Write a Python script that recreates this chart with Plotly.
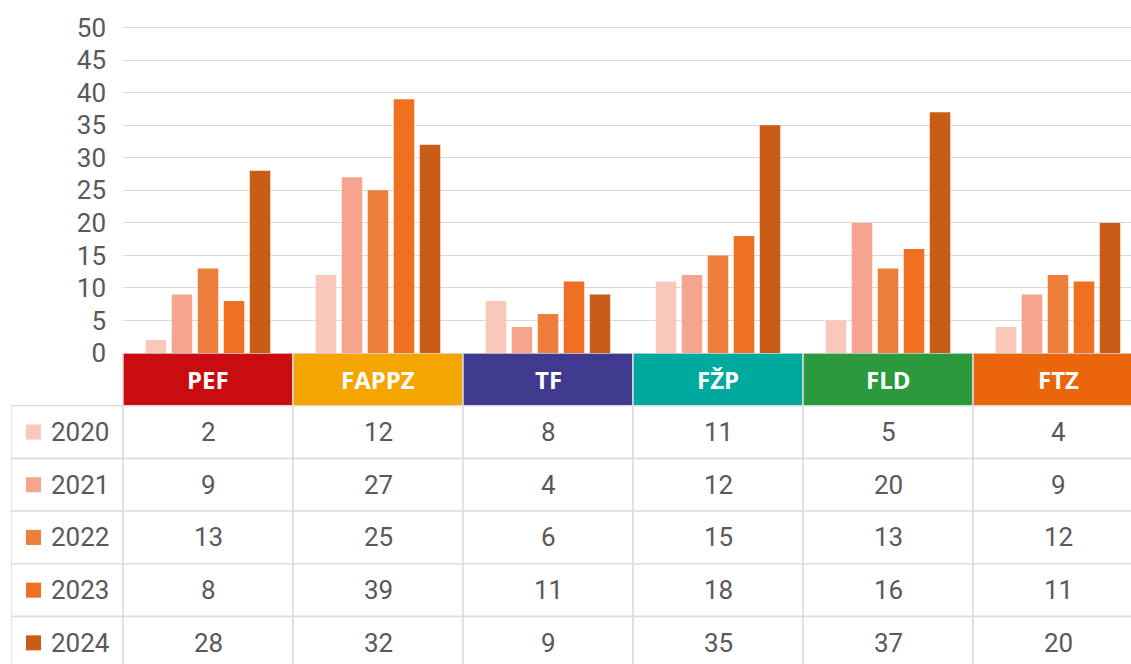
import plotly.graph_objects as go

# data
faculties = ["PEF", "FAPPZ", "TF", "FŽP", "FLD", "FTZ"]
years = ["2020", "2021", "2022", "2023", "2024"]
v2020 = [2, 12, 8, 11, 5, 4]
v2021 = [9, 27, 4, 12, 20, 9]
v2022 = [13, 25, 6, 15, 13, 12]
v2023 = [8, 39, 11, 18, 16, 11]
v2024 = [28, 32, 9, 35, 37, 20]
values = [v2020, v2021, v2022, v2023, v2024]

year_colors = ["#F9C8BA", "#F5A48D", "#EE7E3C", "#EE7020", "#C95D18"]
head_colors = ["#C90C0F", "#F5A500", "#3F3A8E", "#00A99D", "#2A9A3C", "#EB660A"]
grey_txt = "#595959"
line_col = "#DCDCDC"
num_font = "Roboto"

W, H = 1131, 664
col_px = 170            # one category in pixels
plot_left = 123
table_left = 11
zero_px = 353
row_px = 52.7

x_hi = -0.5 + (W - plot_left) / col_px
t_lo = -0.5 - (plot_left - table_left) / col_px
y_top = 54.26
r_hi = -0.5 + (H - zero_px) / row_px

fig = go.Figure()

for yr, vals, c in zip(years, values, year_colors):
    fig.add_trace(go.Bar(x=faculties, y=vals, name=yr, marker_color=c,
                         marker_line_width=0, showlegend=False))

shapes = []
annots = []

# header row
for i, (f, c) in enumerate(zip(faculties, head_colors)):
    shapes.append(dict(type="rect", xref="x2", yref="y2", x0=i - 0.5, x1=i + 0.5,
                       y0=-0.5, y1=0.5, fillcolor=c, layer="below",
                       line=dict(color=line_col, width=1.5)))
    annots.append(dict(xref="x2", yref="y2", x=i, y=0, text="<b>" + f + "</b>", showarrow=False,
                       font=dict(family="Open Sans", size=24, color="white"),
                       xanchor="center", yanchor="middle"))

# data rows
for r, (yr, vals, c) in enumerate(zip(years, values, year_colors), start=1):
    shapes.append(dict(type="rect", xref="x2", yref="y2", x0=t_lo, x1=-0.5,
                       y0=r - 0.5, y1=r + 0.5, fillcolor="white", layer="below",
                       line=dict(color=line_col, width=1.5)))
    annots.append(dict(xref="x2", yref="y2", x=t_lo + 38 / col_px, y=r, text=yr, showarrow=False,
                       font=dict(family=num_font, size=26, color=grey_txt),
                       xanchor="left", yanchor="middle"))
    for i, v in enumerate(vals):
        shapes.append(dict(type="rect", xref="x2", yref="y2", x0=i - 0.5, x1=i + 0.5,
                           y0=r - 0.5, y1=r + 0.5, fillcolor="white", layer="below",
                           line=dict(color=line_col, width=1.5)))
        annots.append(dict(xref="x2", yref="y2", x=i, y=r, text=str(v), showarrow=False,
                           font=dict(family=num_font, size=26, color=grey_txt),
                           xanchor="center", yanchor="middle"))

# legend keys inside the table
fig.add_trace(go.Scatter(x=[t_lo + 22.5 / col_px] * len(years), y=list(range(1, len(years) + 1)),
                         xaxis="x2", yaxis="y2", mode="markers",
                         marker=dict(symbol="square", size=15, color=year_colors, line_width=0),
                         showlegend=False, hoverinfo="skip"))

fig.update_layout(
    width=W, height=H, autosize=False,
    margin=dict(l=0, r=0, t=0, b=0),
    paper_bgcolor="white", plot_bgcolor="white",
    barmode="group", bargap=0.235, bargroupgap=0.21,
    xaxis=dict(domain=[plot_left / W, 1], range=[-0.5, x_hi], showticklabels=False,
               showgrid=False, zeroline=False, showline=False, ticks="", automargin=False),
    yaxis=dict(domain=[1 - zero_px / H, 1], range=[0, y_top], dtick=5, automargin=False,
               gridcolor="#D9D9D9", gridwidth=1.3, zeroline=False, showline=False,
               tickfont=dict(family=num_font, size=26, color=grey_txt), ticklabelstandoff=16),
    xaxis2=dict(domain=[table_left / W, 1], range=[t_lo, x_hi], visible=False,
                anchor="y2", automargin=False),
    yaxis2=dict(domain=[0, 1 - zero_px / H], range=[r_hi, -0.5], visible=False,
                anchor="x2", automargin=False),
    shapes=shapes,
    annotations=annots,
)

fig.write_html("out.html", config={"displayModeBar": False},
               post_script="document.body.style.margin='0';")
